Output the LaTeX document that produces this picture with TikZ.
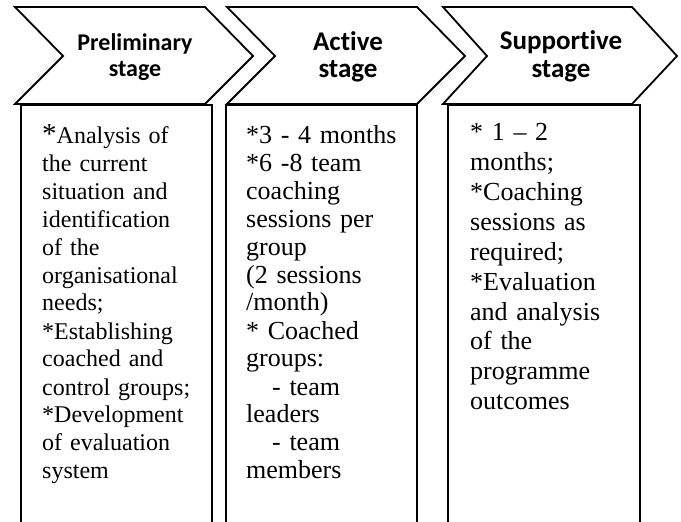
\documentclass[tikz,border=0pt]{standalone}
\usepackage{fontspec}
\setmainfont{Liberation Serif}
\newfontfamily\headfont[Ligatures=NoCommon]{Carlito}
\begin{document}
\begin{tikzpicture}[x=1pt,y=-1pt]
\tikzset{
  chevron/.style={draw=black, line width=1.8pt, line join=miter, fill=white},
  stagebox/.style={draw=black, line width=1.8pt},
  headtext/.style={anchor=base, inner sep=0pt, text width=170pt, align=center},
  bodytext/.style={anchor=base west, inner sep=0pt, text width=185pt, align=left}
}
\useasboundingbox[fill=white] (0,0) rectangle (681,522);

% stage chevrons
\draw[chevron] (15,7) -- (205,7) -- (253,56) -- (205,104) -- (15,104) -- (63,56) -- cycle;
\draw[chevron] (227,7) -- (417,7) -- (465,56) -- (417,104) -- (227,104) -- (275,56) -- cycle;
\draw[chevron] (443,7) -- (632,7) -- (677,56) -- (632,104) -- (443,104) -- (487,56) -- cycle;

\node[headtext, font=\headfont\bfseries\fontsize{24}{26}\selectfont] (h1) at (135,50) {Preliminary\\stage};
\node[headtext, font=\headfont\bfseries\fontsize{27}{28}\selectfont] (h2) at (348,50) {Active\\stage};
\node[headtext, font=\headfont\bfseries\fontsize{27}{28}\selectfont] (h3) at (561,49) {Supportive\\stage};

% content boxes, open at the bottom
\draw[stagebox] (21,522) -- (21,105) -- (212,105) -- (212,522);
\draw[stagebox] (226,522) -- (226,105) -- (417,105) -- (417,522);
\draw[stagebox] (448,522) -- (448,105) -- (640,105) -- (640,522);

\node[bodytext, font=\fontsize{24}{28}\selectfont] (b1) at (42,143)
  {{\fontsize{29}{28}\selectfont *}Analysis of\\the current\\situation and\\identification\\of the\\organisational\\needs;\\{}*Establishing\\coached and\\control groups;\\{}*Development\\of evaluation\\system};
\node[bodytext, font=\fontsize{26}{28}\selectfont] (b2) at (246,143)
  {*3 - 4 months\\{}*6 -8 team\\coaching\\sessions per\\group\\(2 sessions\\/month)\\{}* Coached\\groups:\\\hspace*{26pt}- team\\leaders\\\hspace*{26pt}- team\\members};
\node[bodytext, font=\fontsize{26}{30}\selectfont] (b3) at (470,140)
  {* 1 -- 2\\months;\\{}*Coaching\\sessions as\\required;\\{}*Evaluation\\and analysis\\of the\\programme\\outcomes};
\end{tikzpicture}
\end{document}
